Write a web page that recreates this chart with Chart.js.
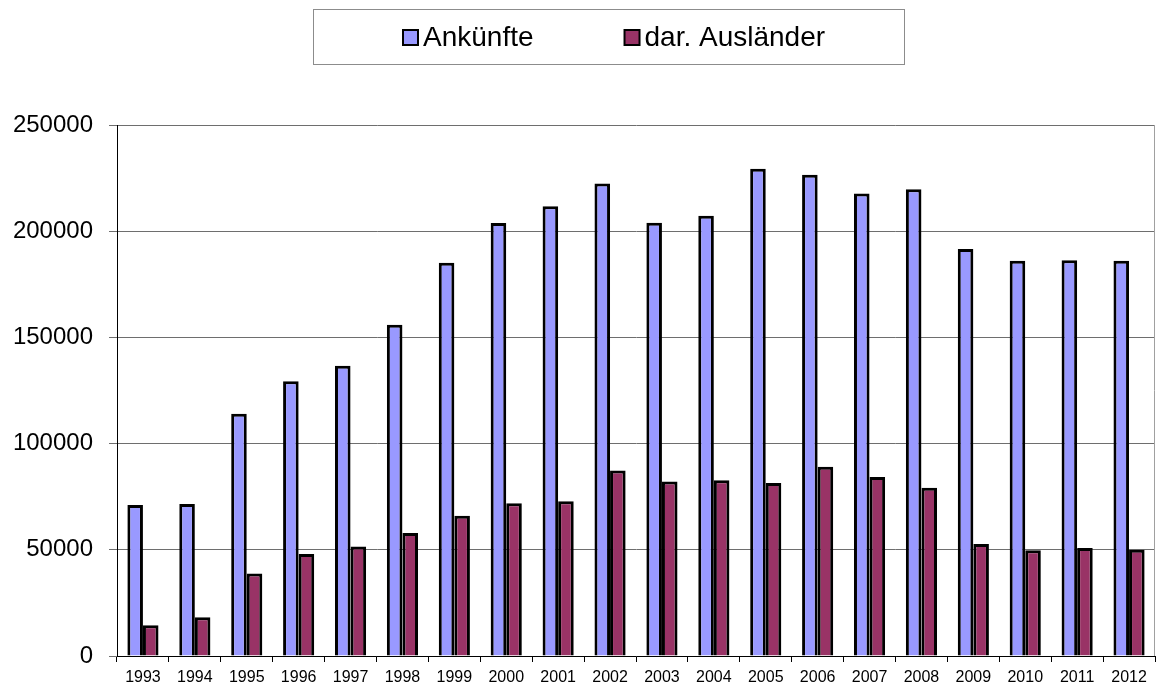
<!DOCTYPE html>
<html>
<head>
<meta charset="utf-8">
<script src="https://cdn.jsdelivr.net/npm/chart.js@4.4.0/dist/chart.umd.min.js"></script>
<style>
  html, body { margin: 0; padding: 0; background: #fff; }
  #wrap { width: 1156px; height: 689px; }
</style>
</head>
<body>
<div id="wrap"><canvas id="chart"></canvas></div>
<script>
const years = ['1993', '1994', '1995', '1996', '1997', '1998', '1999', '2000', '2001', '2002',
               '2003', '2004', '2005', '2006', '2007', '2008', '2009', '2010', '2011', '2012'];
const ankuenfte = [71100, 71600, 114000, 129400, 136600, 156000, 185200, 203900, 211800, 222400,
                   204000, 207300, 229400, 226600, 217700, 219800, 191600, 186100, 186300, 186100];
const auslaender = [14500, 18200, 38800, 48000, 51500, 57900, 66000, 71900, 72800, 87300,
                    82200, 82700, 81400, 89100, 84300, 79200, 52700, 49800, 50800, 50000];
const yTicks = [0, 50000, 100000, 150000, 200000, 250000];

// legend in a framed box + grey line on the right of the plot
const boxLegend = {
  id: 'boxLegend',
  afterDraw(chart) {
    const ctx = chart.ctx;
    const area = chart.chartArea;
    ctx.save();
    ctx.strokeStyle = '#a0a0a0';
    ctx.lineWidth = 1;
    ctx.beginPath();
    ctx.moveTo(area.right - 0.5, area.top);
    ctx.lineTo(area.right - 0.5, area.bottom);
    ctx.stroke();

    ctx.strokeStyle = '#8c8c8c';
    ctx.strokeRect(313.5, 9.5, 591, 55);

    ctx.font = '28px "Liberation Sans", Arial, sans-serif';
    ctx.textBaseline = 'middle';
    ctx.textAlign = 'left';
    let x = 402;
    const y = 38;
    chart.data.datasets.forEach((ds, i) => {
      ctx.fillStyle = ds.backgroundColor;
      ctx.fillRect(x + 1, y - 8, 15, 15);
      ctx.strokeStyle = '#000';
      ctx.lineWidth = 2;
      ctx.strokeRect(x + 1, y - 8, 15, 15);
      ctx.fillStyle = '#000';
      ctx.fillText(ds.label, x + 21, y);
      x += 21 + ctx.measureText(ds.label).width + 90;
    });
    ctx.restore();
  }
};

new Chart(document.getElementById('chart'), {
  type: 'bar',
  data: {
    labels: years,
    datasets: [
      {
        label: 'Ankünfte',
        data: ankuenfte,
        backgroundColor: '#9999ff',
        borderColor: '#000',
        borderWidth: 3,
        barPercentage: 1.0,
        categoryPercentage: 0.6
      },
      {
        label: 'dar. Ausländer',
        data: auslaender,
        backgroundColor: '#993366',
        borderColor: '#000',
        borderWidth: 3,
        barPercentage: 1.0,
        categoryPercentage: 0.6
      }
    ]
  },
  options: {
    responsive: true,
    maintainAspectRatio: false,
    animation: false,
    layout: { padding: { top: 125, right: 1, left: 0, bottom: 0 } },
    plugins: {
      legend: { display: false },
      tooltip: { enabled: false }
    },
    scales: {
      x: {
        grid: {
          offset: true,
          drawOnChartArea: false,
          drawTicks: true,
          tickLength: 6,
          color: '#000'
        },
        border: { color: '#000', width: 1 },
        ticks: {
          color: '#000',
          padding: 6,
          maxRotation: 0,
          autoSkip: false,
          font: { family: '"Liberation Sans", Arial, sans-serif', size: 16 }
        },
        afterFit(scale) { scale.height = 33; }
      },
      y: {
        min: 0,
        max: 250000,
        afterBuildTicks(scale) { scale.ticks = yTicks.map(v => ({ value: v })); },
        grid: {
          color: '#6e6e6e',
          tickLength: 8,
          lineWidth: 1
        },
        border: { color: '#000', width: 1 },
        ticks: {
          color: '#000',
          padding: 16,
          callback: v => String(v),
          font: { family: '"Liberation Sans", Arial, sans-serif', size: 24 }
        },
        afterFit(scale) { scale.width = 117; }
      }
    }
  },
  plugins: [boxLegend]
});
</script>
</body>
</html>
